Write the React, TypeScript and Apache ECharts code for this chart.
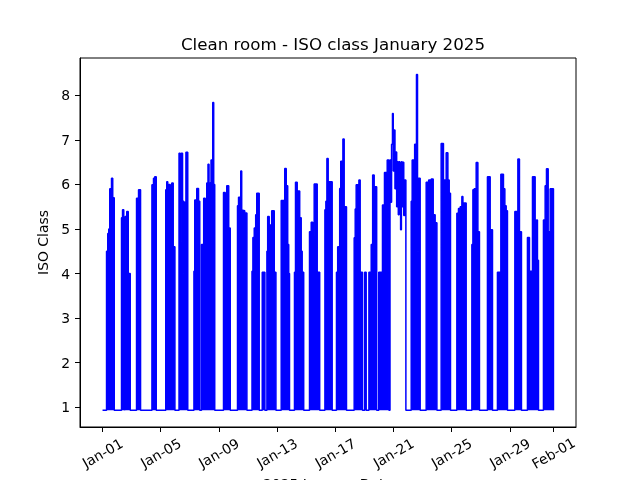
import React, { useEffect, useRef } from "react";
import * as echarts from "echarts";

const BASE = 0.93;

// hours since 2025-01-01 00:00 (value holds from this time until the next one)
const hours = [
  0,
  6.6, 8.6, 10.2, 11.9, 14.8, 16.8, 19.3,
  31.3, 33.0, 35.0, 36.3, 37.4, 39.9, 42.4, 45.7,
  56.1, 59.4, 62.7,
  81.5, 84.1, 86.1, 88.6,
  104.3, 105.9, 107.6, 109.2, 111.7, 114.2, 116.6, 119.4,
  126.2, 128.2, 129.8, 132.0, 134.0, 135.6, 137.6, 140.6,
  150.8, 152.1, 155.4, 158.4, 160.4, 163.3, 166.9, 169.4, 171.9, 174.0, 175.7, 177.3, 179.0, 181.8, 183.4, 185.1,
  199.6, 202.4, 204.9, 208.2, 210.7,
  222.7, 224.4, 228.0, 229.6, 231.3, 234.6, 238.2,
  246.6, 248.1, 250.3, 252.7, 254.4, 258.5,
  263.5, 267.9,
  271.2, 272.5, 275.0, 279.1, 283.3, 286.1,
  294.8, 300.6, 303.1, 305.5, 307.2, 308.5,
  316.7, 318.4, 321.2, 325.3, 327.8, 329.4, 331.9,
  341.5, 344.3, 346.8, 349.2, 354.2, 358.3,
  366.9, 368.5, 370.2, 372.3, 378.9,
  386.0, 388.0, 391.3, 393.0, 396.6, 398.7, 402.5,
  415.2, 416.9, 418.5, 423.0, 425.1, 428.9,
  432.5, 435.0,
  439.5, 443.3, 445.7, 448.2, 452.3,
  455.7, 461.9, 465.2, 469.7, 472.6,
  474.3, 475.6, 476.9, 478.4, 479.7, 481.2, 482.5, 484.0, 485.3, 486.7, 488.0, 489.3, 490.6, 491.8, 493.1, 494.4, 495.7, 497.0, 498.5, 500.5,
  509.3, 510.9, 515.0, 518.0, 519.7, 521.3, 524.1,
  534.0, 538.1, 542.3, 545.6, 548.8, 551.7,
  558.7, 562.5, 567.0, 569.8, 572.0, 574.1,
  584.6, 587.3, 590.1, 592.9, 594.6, 600.0,
  609.4, 611.1, 613.2, 616.5, 619.3, 621.9,
  635.1, 639.6, 643.4,
  651.6, 657.2, 661.5, 663.8, 666.0, 668.1,
  680.3, 685.3, 687.9, 691.2,
  701.1, 704.4, 709.4, 713.8, 716.0, 717.6, 719.3,
  727.5, 730.3, 732.5, 735.3, 738.6, 744.0,
];

const B = BASE;
const isoClass = [
  B,
  4.5, 4.9, 5.0, 5.9, 6.14, 5.7, B,
  5.25, 5.43, 5.2, B, 5.28, 5.39, 4.0, B,
  5.69, 5.88, B,
  5.99, 6.14, 6.17, B,
  5.88, 6.06, 4.0, 6.0, 5.39, 6.03, 4.6, B,
  6.7, 4.72, 6.7, 5.62, 4.0, 5.6, 6.72, B,
  4.05, 5.65, 5.91, 5.62, B, 4.65, 5.69, 4.0, 6.03, 6.45, 6.03, 4.6, 6.55, 7.84, 6.0, B,
  5.82, 5.02, 5.97, 5.02, B,
  5.52, 5.71, 6.3, 5.42, 5.41, 5.36, B,
  4.05, 4.81, 5.02, 5.32, 5.8, B,
  4.03, B,
  4.5, 5.28, 5.09, 5.41, 4.03, B,
  5.64, 6.36, 5.97, 4.65, 4.0, B,
  4.03, 6.05, 5.85, 5.25, 4.5, 4.03, B,
  4.94, 5.15, 4.85, 6.01, 4.03, B,
  5.43, 5.62, 6.58, 6.06, B,
  4.03, 4.6, 5.91, 6.52, 7.02, 5.5, B,
  4.8, 5.45, 5.99, 6.1, 4.03, B,
  4.03, B,
  4.03, 4.65, 6.21, 5.95, B,
  4.03, 5.54, 6.27, 6.55, B,
  6.55, 5.6, 6.9, 7.59, 6.3, 7.22, 5.9, 6.73, 5.5, 6.51, 5.32, 6.51, 5.7, 4.98, 6.51, 5.5, 6.5, 5.3, 6.1, B,
  5.62, 6.55, 6.9, 8.47, 4.5, 6.14, B,
  6.05, 6.1, 6.12, 5.32, 5.14, B,
  6.92, 6.1, 6.71, 6.1, 5.8, B,
  5.35, 5.46, 5.5, 5.73, 5.58, B,
  4.65, 5.88, 5.9, 6.49, 4.94, B,
  6.17, 4.98, B,
  4.03, 6.23, 5.9, 5.52, 5.41, B,
  5.39, 6.57, 4.94, B,
  4.81, 4.05, 6.17, 4.31, 5.2, 4.3, B,
  5.2, 5.97, 6.35, 4.94, 5.9, B,
];

// period where the class stays high without dropping back to baseline
const steadyHours = [474, 500];

const xTickHours = [0, 96, 192, 288, 384, 480, 576, 672, 744];
const xTickLabels = ["Jan-01", "Jan-05", "Jan-09", "Jan-13", "Jan-17", "Jan-21", "Jan-25", "Jan-29", "Feb-01"];
const yTicks = [1, 2, 3, 4, 5, 6, 7, 8];

const FONT = "DejaVu Sans";

export default function App() {
  const ref = useRef<HTMLDivElement>(null);
  useEffect(() => {
    const chart = echarts.init(ref.current!, null, { renderer: "svg" });
    const lineData = hours.map((h, i) => [h, isoClass[i]]);
    const fillData = hours.map((h, i) => [
      h,
      h >= steadyHours[0] && h <= steadyHours[1] ? BASE : isoClass[i],
    ]);
    chart.setOption({
      animation: false,
      title: {
        text: "Clean room - ISO class January 2025",
        left: 328,
        top: 30,
        textAlign: "center",
        textStyle: { fontFamily: FONT, fontSize: 16.7, fontWeight: "normal", color: "#000" },
      },
      grid: {
        left: 80,
        right: 64,
        top: 58,
        bottom: 53,
        show: true,
        borderColor: "#000",
        borderWidth: 1,
        containLabel: false,
        outerBoundsMode: "none",
      },
      xAxis: {
        type: "value",
        min: -37.2,
        max: 781.2,
        splitLine: { show: false },
        axisLine: { show: true, onZero: false, lineStyle: { color: "#000", width: 1 } },
        axisTick: { show: true, inside: false, length: 5, customValues: xTickHours, lineStyle: { color: "#000", width: 1 } },
        axisLabel: {
          customValues: xTickHours,
          rotate: 30,
          align: "center",
          verticalAlign: "middle",
          margin: 26,
          fontFamily: FONT,
          fontSize: 13.9,
          color: "#000",
          hideOverlap: false,
          formatter: (v: number) => {
            const i = xTickHours.findIndex((t) => Math.abs(t - v) < 0.01);
            return i >= 0 ? xTickLabels[i] : "";
          },
        },
        name: "2025 January Date",
        nameLocation: "middle",
        nameGap: 47,
        nameTextStyle: { fontFamily: FONT, fontSize: 13.9, color: "#000" },
      },
      yAxis: {
        type: "value",
        min: 0.554,
        max: 8.838,
        splitLine: { show: false },
        axisLine: { show: true, onZero: false, lineStyle: { color: "#000", width: 1 } },
        axisTick: { show: true, inside: false, length: 5, customValues: yTicks, lineStyle: { color: "#000", width: 1 } },
        axisLabel: { customValues: yTicks, margin: 10, fontFamily: FONT, fontSize: 13.9, color: "#000" },
        name: "ISO Class",
        nameLocation: "middle",
        nameGap: 23,
        nameTextStyle: { fontFamily: FONT, fontSize: 13.9, color: "#000" },
      },
      series: [
        {
          type: "line",
          step: "end",
          data: fillData,
          symbol: "none",
          lineStyle: { width: 0, opacity: 0 },
          areaStyle: { color: "#0000ff", opacity: 1, origin: BASE },
          silent: true,
          z: 1,
        },
        {
          type: "line",
          step: "end",
          data: lineData,
          symbol: "none",
          lineStyle: { color: "#0000ff", width: 1.5 },
          z: 2,
        },
      ],
    });
    return () => chart.dispose();
  }, []);
  return <div ref={ref} style={{ position: "fixed", left: 0, top: 0, width: 640, height: 480 }} />;
}
